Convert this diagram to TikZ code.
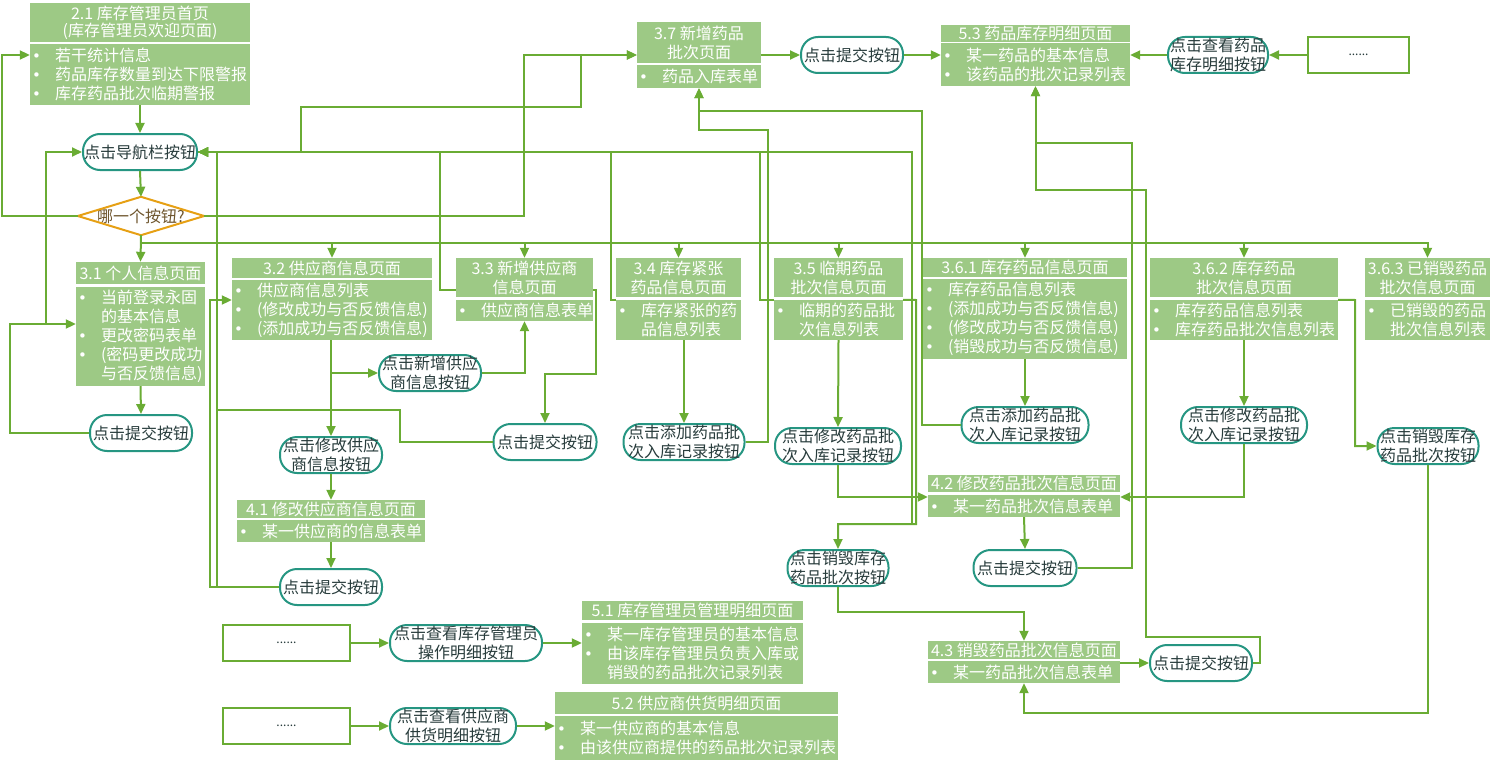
\documentclass[tikz,border=0pt]{standalone}
\usepackage{fontspec}
\setmainfont{Noto Sans CJK SC}
\newfontfamily\dotfont{DejaVu Sans}
\usetikzlibrary{arrows.meta}

\definecolor{pagegreen}{RGB}{157,201,133}
\definecolor{linegreen}{RGB}{106,172,52}
\definecolor{btnteal}{RGB}{38,150,130}
\definecolor{btntext}{RGB}{40,60,60}
\definecolor{qorange}{RGB}{230,160,20}
\definecolor{qtext}{RGB}{110,85,45}

\newcommand{\pagefont}{\fontsize{16}{19}\selectfont}
\newcommand{\bul}{\makebox[25pt][l]{\hspace{2pt}{\dotfont\fontsize{15}{19}\selectfont •}}}
\newcommand{\ind}{\hspace*{25pt}}

\tikzset{
  page/.style={fill=pagegreen, text=white, inner sep=0pt, font=\pagefont},
  pagehead/.style={page, align=center},
  pagebody/.style={page, align=left},
  btn/.style={draw=btnteal, line width=2pt, fill=white, rounded corners=17pt,
    inner sep=0pt, minimum height=36pt, align=center, text=btntext, font=\pagefont},
  dotbox/.style={draw=linegreen, line width=2pt, fill=white, minimum height=36pt,
    inner sep=0pt, text=btntext, font=\fontsize{12}{14}\selectfont},
  flow/.style={draw=linegreen, line width=2pt, -{Triangle[length=10pt,width=9pt]}}
}

\begin{document}
\begin{tikzpicture}[x=1pt, y=-1pt]
\useasboundingbox (0,0) rectangle (1495,765);

% home page, navigation and the question
\node[pagehead, minimum width=220pt, minimum height=39pt, font=\fontsize{16}{17}\selectfont] (h21) at (140,22.5) {2.1 库存管理员首页\\(库存管理员欢迎页面)};
\node[pagebody, text width=220pt, minimum height=61pt] (b21) at (140,74.5) {\bul 若干统计信息\\\bul 药品库存数量到达下限警报\\\bul 库存药品批次临期警报};
\node[btn, minimum width=114pt] (navbtn) at (140,152) {点击导航栏按钮};
\node[minimum width=126pt, minimum height=38pt, inner sep=0pt, text=qtext, font=\pagefont] (q) at (141,216) {哪一个按钮?};
\draw[qorange, line width=2pt] (q.west) -- (q.north) -- (q.east) -- (q.south) -- cycle;

% pages of the navigation bar
\node[pagehead, minimum width=129pt, minimum height=22pt] (h31) at (140.5,273) {3.1 个人信息页面};
\node[pagebody, text width=129pt, minimum height=99pt] (b31) at (140.5,336.5) {\bul 当前登录永固\\\ind 的基本信息\\\bul 更改密码表单\\\bul (密码更改成功\\\ind 与否反馈信息)};
\node[btn, minimum width=102pt] (sub31) at (141,433) {点击提交按钮};

\node[pagehead, minimum width=200pt, minimum height=20pt] (h32) at (332,268) {3.2 供应商信息页面};
\node[pagebody, text width=200pt, minimum height=60pt] (b32) at (332,310) {\bul 供应商信息列表\\\bul (修改成功与否反馈信息)\\\bul (添加成功与否反馈信息)};
\node[btn, minimum width=102pt] (addsup) at (430,373) {点击新增供应\\商信息按钮};
\node[btn, minimum width=102pt] (modsup) at (331,455) {点击修改供应\\商信息按钮};
\node[pagehead, minimum width=188pt, minimum height=18pt] (h41) at (331,509) {4.1 修改供应商信息页面};
\node[pagebody, text width=188pt, minimum height=22pt] (b41) at (331,531) {\bul 某一供应商的信息表单};
\node[btn, minimum width=102pt] (sub41) at (331,587) {点击提交按钮};

\node[pagehead, minimum width=137pt, minimum height=39pt] (h33) at (524.5,277.5) {3.3 新增供应商\\信息页面};
\node[pagebody, text width=137pt, minimum height=21pt] (b33) at (524.5,310.5) {\bul 供应商信息表单};
\node[btn, minimum width=103pt] (sub33) at (545,442) {点击提交按钮};

\node[pagehead, minimum width=125pt, minimum height=39pt] (h34) at (678.5,277.5) {3.4 库存紧张\\药品信息页面};
\node[pagebody, text width=125pt, minimum height=40pt] (b34) at (678.5,320) {\bul 库存紧张的药\\\ind 品信息列表};
\node[btn, minimum width=121pt] (add34) at (684,442) {点击添加药品批\\次入库记录按钮};

\node[pagehead, minimum width=129pt, minimum height=39pt] (h35) at (838.5,277.5) {3.5 临期药品\\批次信息页面};
\node[pagebody, text width=129pt, minimum height=40pt] (b35) at (838.5,320) {\bul 临期的药品批\\\ind 次信息列表};
\node[btn, minimum width=126pt] (mod35) at (838,446) {点击修改药品批\\次入库记录按钮};
\node[btn, minimum width=101pt] (del35) at (838,568) {点击销毁库存\\药品批次按钮};

\node[pagehead, minimum width=204pt, minimum height=19pt] (h361) at (1025,267.5) {3.6.1 库存药品信息页面};
\node[pagebody, text width=204pt, minimum height=80pt] (b361) at (1025,319) {\bul 库存药品信息列表\\\bul (添加成功与否反馈信息)\\\bul (修改成功与否反馈信息)\\\bul (销毁成功与否反馈信息)};
\node[btn, minimum width=127pt] (add361) at (1025,425) {点击添加药品批\\次入库记录按钮};

\node[pagehead, minimum width=188pt, minimum height=39pt] (h362) at (1244,277.5) {3.6.2 库存药品\\批次信息页面};
\node[pagebody, text width=188pt, minimum height=40pt] (b362) at (1244,320) {\bul 库存药品信息列表\\\bul 库存药品批次信息列表};
\node[btn, minimum width=126pt] (mod362) at (1244,425) {点击修改药品批\\次入库记录按钮};

\node[pagehead, minimum width=125pt, minimum height=39pt] (h363) at (1427.5,277.5) {3.6.3 已销毁药品\\批次信息页面};
\node[pagebody, text width=125pt, minimum height=40pt] (b363) at (1427.5,320) {\bul 已销毁的药品\\\ind 批次信息列表};
\node[btn, minimum width=101pt] (del363) at (1428,446) {点击销毁库存\\药品批次按钮};

% batch forms
\node[pagehead, minimum width=192pt, minimum height=17pt] (h42) at (1024,483.5) {4.2 修改药品批次信息页面};
\node[pagebody, text width=192pt, minimum height=22pt] (b42) at (1024,506) {\bul 某一药品批次信息表单};
\node[btn, minimum width=103pt] (sub42) at (1025,568) {点击提交按钮};
\node[pagehead, minimum width=192pt, minimum height=18pt] (h43) at (1024,650) {4.3 销毁药品批次信息页面};
\node[pagebody, text width=192pt, minimum height=22pt] (b43) at (1024,672) {\bul 某一药品批次信息表单};
\node[btn, minimum width=102pt] (sub43) at (1201,663) {点击提交按钮};

\node[pagehead, minimum width=124pt, minimum height=41pt] (h37) at (699,42.5) {3.7 新增药品\\批次页面};
\node[pagebody, text width=124pt, minimum height=23pt] (b37) at (699,76.5) {\bul 药品入库表单};
\node[btn, minimum width=102pt] (sub37) at (852,55) {点击提交按钮};

% detail pages
\node[pagehead, minimum width=189pt, minimum height=17pt] (h53) at (1035.5,33.5) {5.3 药品库存明细页面};
\node[pagebody, text width=189pt, minimum height=43pt] (b53) at (1035.5,64.5) {\bul 某一药品的基本信息\\\bul 该药品的批次记录列表};
\node[btn, minimum width=100pt] (view53) at (1218,55) {点击查看药品\\库存明细按钮};
\node[dotbox, minimum width=101pt] (dots53) at (1358.5,55) {......};

\node[dotbox, minimum width=127pt] (dots51) at (286.5,643) {......};
\node[btn, minimum width=152pt] (view51) at (466,643) {点击查看库存管理员\\操作明细按钮};
\node[pagehead, minimum width=221pt, minimum height=19pt] (h51) at (692.5,610.5) {5.1 库存管理员管理明细页面};
\node[pagebody, text width=221pt, minimum height=61pt] (b51) at (692.5,653.5) {\bul 某一库存管理员的基本信息\\\bul 由该库存管理员负责入库或\\\ind 销毁的药品批次记录列表};

\node[dotbox, minimum width=127pt] (dots52) at (286.5,726) {......};
\node[btn, minimum width=126pt] (view52) at (453,726) {点击查看供应商\\供货明细按钮};
\node[pagehead, minimum width=283pt, minimum height=22pt] (h52) at (696.5,703) {5.2 供应商供货明细页面};
\node[pagebody, text width=283pt, minimum height=44pt] (b52) at (696.5,738) {\bul 某一供应商的基本信息\\\bul 由该供应商提供的药品批次记录列表};

\coordinate (j35) at (838,524);

% home, navigation, question
\draw[flow] (b21.south) -- (navbtn.north);
\draw[flow] (navbtn.south) -- (q.north);
\draw[flow] (q.west) -| (2,55) -- (b21.west |- 0,55);
\draw[flow] (q.south) -- (h31.north);
\foreach \pg in {h32,h33,h34,h35,h361,h362,h363}
  \draw[flow] (q.south |- 0,243) -| (\pg.north);
\draw[flow] (q.east) -| (524,55) -- (h37.west |- 0,55);
\draw[flow] (navbtn.east) -| (301,107) -| (581,55) -- (h37.west |- 0,55);

% 3.1
\draw[flow] (b31.south) -- (sub31.north);
\draw[flow] (sub31.west) -| (10,324) -- (b31.west |- 0,324);
\draw[flow] (46,324) |- (navbtn.west);

% 3.2 and 3.3
\draw[flow] (modsup.north |- b32.south) -- (modsup.north);
\draw[flow] (modsup.north |- addsup.west) -- (addsup.west);
\draw[flow] (addsup.east) -| (b33.south);
\draw[flow] (modsup.south) -- (h41.north);
\draw[flow] (b41.south) -- (sub41.north);
\draw[flow] (sub41.west) -| (210,300) -- (b32.west |- 0,300);
\draw[flow] (sub41.west) -| (217,152) -- (navbtn.east);
\draw[flow] (h33.east |- 0,290) -| (596,374) -| (sub33.north);
\draw[flow] (sub33.west) -| (400,410) -| (217,152) -- (navbtn.east);
\draw[flow] (h33.west |- 0,290) -| (440,152) -- (navbtn.east);

% 3.4 and 3.5
\draw[flow] (add34.north |- b34.south) -- (add34.north);
\draw[flow] (add34.east) -| (768,130) -| (b37.south);
\draw[flow] (b34.north west) -| (611,152) -- (navbtn.east);
\draw[flow] (b35.north west) -| (760,152) -- (navbtn.east);
\draw[flow] (b35.south) -- (mod35.north);
\draw[flow] (mod35.south) |- (b42.west |- 0,497);
\draw[flow] (b35.north east) -- (916,300) |- (j35) -- (del35.north);
\draw[flow] (j35) -| (912,152) -- (navbtn.east);

% 3.6.x
\draw[flow] (b361.south) -- (add361.north);
\draw[flow] (add361.west) -| (922,111) -| (b37.south);
\draw[flow] (b362.south) -- (mod362.north);
\draw[flow] (mod362.south) |- (b42.east |- 0,497);
\draw[flow] (b362.north east) -- (1355,300) |- (del363.west);
\draw[flow] (del363.south) |- (b43.south |- 0,713) -- (b43.south);

% 4.x
\draw[flow] (del35.south) |- (h43.north |- 0,612) -- (h43.north);
\draw[flow] (b42.south) -- (sub42.north);
\draw[flow] (sub42.east) -| (1132,143) -| (b53.south);
\draw[flow] (b43.east |- sub43.west) -- (sub43.west);
\draw[flow] (sub43.east) -| (1260,637) -| (1146,190) -| (b53.south);

% 3.7 and 5.x
\draw[flow] (h37.east |- sub37.west) -- (sub37.west);
\draw[flow] (sub37.east) -- (b53.west |- sub37.east);
\draw[flow] (dots53.west) -- (view53.east);
\draw[flow] (view53.west) -- (b53.east |- view53.west);
\draw[flow] (dots51.east) -- (view51.west);
\draw[flow] (view51.east) -- (b51.west |- view51.east);
\draw[flow] (dots52.east) -- (view52.west);
\draw[flow] (view52.east) -- (b52.west |- view52.east);

\end{tikzpicture}
\end{document}
